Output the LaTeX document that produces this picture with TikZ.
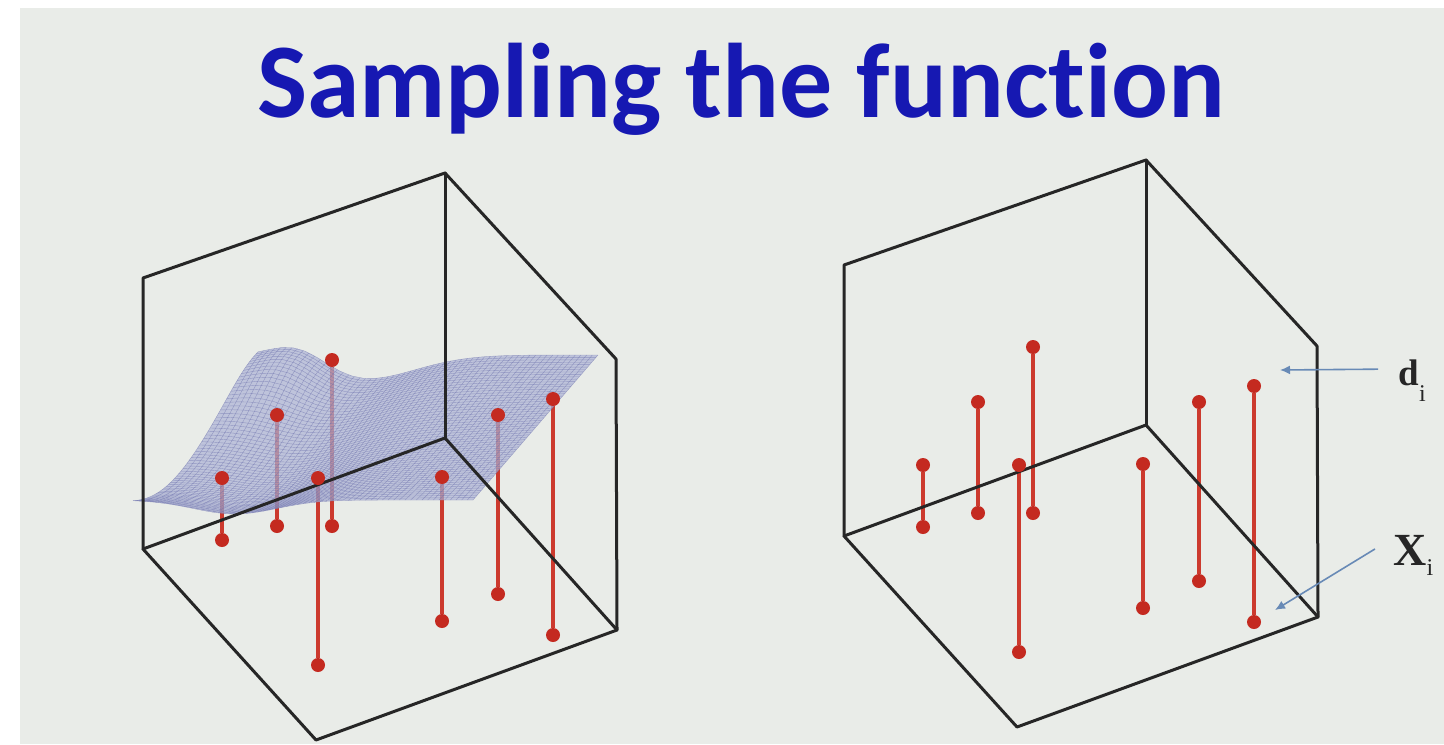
\documentclass[tikz,border=0pt]{standalone}
\usepackage{fontspec}
\usepackage{tikz}
\usetikzlibrary{arrows.meta}
\newfontfamily\titlefont[Ligatures=NoCommon]{Carlito}
\newfontfamily\symfont{Liberation Serif}
\definecolor{slidebg}{RGB}{233,236,232}
\definecolor{titleblue}{RGB}{22,24,178}
\definecolor{samplered}{RGB}{196,42,32}
\definecolor{stemred}{RGB}{204,58,46}
\definecolor{meshblue}{RGB}{108,112,172}
\definecolor{surfblue}{RGB}{172,178,214}
\definecolor{pointerblue}{RGB}{104,138,182}
\definecolor{symgray}{RGB}{38,38,38}
\pgfdeclarelayer{slide}
\pgfdeclarelayer{stems}
\pgfsetlayers{slide,stems,main}

\begin{document}
\begin{tikzpicture}[x=0.5pt, y=-0.5pt,
        cubeline/.style={line width=1.5pt, black!85, line cap=round, line join=round},
        stem/.style={line width=1.8pt, stemred},
        sample/.style={circle, fill=samplered, inner sep=0pt, minimum size=7pt},
        mesh/.style={line width=0.2pt, meshblue, opacity=0.55},
        pointer/.style={-{Latex[length=5pt, width=4.5pt]}, line width=0.8pt, pointerblue},
        sym/.style={text=symgray, inner sep=0pt, anchor=base west},
        declare function={
            surfz(\s,\t)=20*exp(-((\s-0.12)*(\s-0.12)/0.015+(\t-0.95)*(\t-0.95)/0.05))
                -43*sin(180*\t)*(1-\t)*(1-\s)
                -25*exp(-(\s-0.3)*(\s-0.3)/0.05)*\t
                -14*exp(-(\s-0.3)*(\s-0.3)/0.03)*(1-\t);
            surfx(\s,\t)=133+340*\s+125*\t;
            surfy(\s,\t)=500-145*\t-surfz(\s,\t);
        }
    ]
        \begin{pgfonlayer}{slide}
            \fill[white] (0,0) rectangle (1444,744);
            \fill[slidebg] (20,8) rectangle (1444,744);
        \end{pgfonlayer}
        \useasboundingbox (0,0) rectangle (1444,744);

        \node[font=\titlefont\bfseries\fontsize{53}{60}\selectfont, text=titleblue, anchor=base] (title) at (741,117) {Sampling the function};

        % sampled surface over the left box
        \fill[surfblue, opacity=0.7]
            plot[domain=0:1, samples=40, variable=\s] ({surfx(\s,0)},{surfy(\s,0)})
            -- plot[domain=0:1, samples=40, variable=\t] ({surfx(1,\t)},{surfy(1,\t)})
            -- plot[domain=1:0, samples=40, variable=\s] ({surfx(\s,1)},{surfy(\s,1)})
            -- plot[domain=1:0, samples=40, variable=\t] ({surfx(0,\t)},{surfy(0,\t)}) -- cycle;
        \foreach \k in {0,...,60} {
            \draw[mesh] plot[domain=0:1, samples=30, variable=\t] ({surfx(\k/60,\t)},{surfy(\k/60,\t)});
            \draw[mesh] plot[domain=0:1, samples=30, variable=\s] ({surfx(\s,\k/60)},{surfy(\s,\k/60)});
        }

        % the two boxes with their samples
        \foreach \dx/\dy/\cube in {0/0/L, 701/-13/R} {
            \begin{scope}[shift={(\dx,\dy)}]
                \coordinate (\cube-a) at (143,549);
                \coordinate (\cube-b) at (445,438);
                \coordinate (\cube-c) at (617,630);
                \coordinate (\cube-d) at (316,740);
                \coordinate (\cube-at) at (143,278);
                \coordinate (\cube-bt) at (445,173);
                \coordinate (\cube-ct) at (616,359);
                \draw[cubeline] (\cube-at) -- (\cube-a) -- (\cube-d) -- (\cube-c) -- (\cube-ct) -- (\cube-bt) -- cycle;
                \draw[cubeline] (\cube-a) -- (\cube-b) -- (\cube-c);
                \draw[cubeline] (\cube-b) -- (\cube-bt);
                \foreach \x/\top/\bot [count=\i] in {222/478/540, 277/415/526, 332/360/526, 318/478/665, 442/477/621, 498/415/594, 553/399/635} {
                    \node[sample] (\cube-top\i) at (\x,\top) {};
                    \node[sample] (\cube-bot\i) at (\x,\bot) {};
                    \begin{pgfonlayer}{stems}
                        \draw[stem] (\cube-top\i) -- (\cube-bot\i);
                    \end{pgfonlayer}
                }
            \end{scope}
        }

        \node[sym, font=\symfont\bfseries\fontsize{18.5}{20}\selectfont] (di) at (1398,385) {d\raisebox{-8pt}{\fontsize{12}{12}\selectfont\mdseries i}};
        \node[sym, font=\symfont\bfseries\fontsize{23}{24}\selectfont] (xi) at (1393,565) {X\raisebox{-5pt}{\fontsize{12}{12}\selectfont\mdseries i}};
        \coordinate (dtip) at (1280,370);
        \coordinate (xtip) at (1275,610);
        \draw[pointer] ([xshift=-10pt, yshift=5.5pt]di.west) -- (dtip);
        \draw[pointer] ([xshift=-9pt, yshift=3pt]xi.west) -- (xtip);
    \end{tikzpicture}
\end{document}
